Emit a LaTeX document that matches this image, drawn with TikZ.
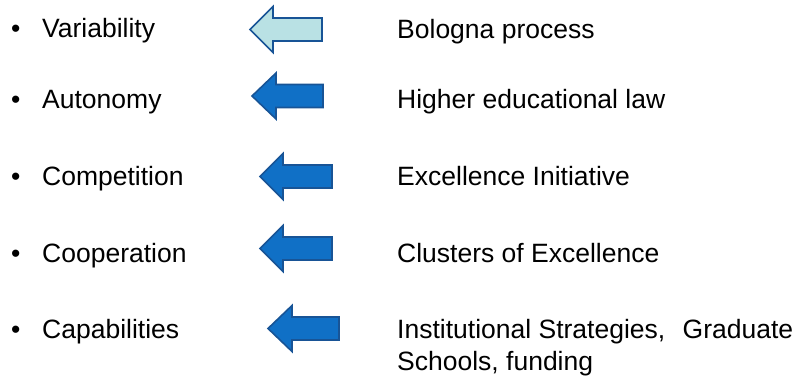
\documentclass[tikz,border=0pt]{standalone}
\usepackage{fontspec}
\setmainfont{Liberation Sans}
\definecolor{arrowfill}{RGB}{16,112,198}
\definecolor{arrowlight}{RGB}{185,225,228}
\definecolor{arrowline}{RGB}{24,84,150}
\tikzset{
  item/.style={anchor=base west, inner sep=0pt, font=\fontsize{26.5}{32}\selectfont},
  bigarrow/.style={draw=arrowline, line width=1.6pt, line join=miter, fill=#1},
}
% block arrow pointing left: [fill] tip x, head x, end x, centre y
\newcommand{\leftblock}[5][arrowfill]{%
  \draw[bigarrow=#1] (#2,#5) -- (#3,#5-23) -- (#3,#5-11.5) -- (#4,#5-11.5)
    -- (#4,#5+11.5) -- (#3,#5+11.5) -- (#3,#5+23) -- cycle;}
\begin{document}
\begin{tikzpicture}[x=1pt,y=-1pt]
 \useasboundingbox (0,0) rectangle (799,377);

 \node[item] (b1) at (11,37.5) {•};
 \node[item] (b2) at (11,108) {•};
 \node[item] (b3) at (11,185) {•};
 \node[item] (b4) at (11,262) {•};
 \node[item] (b5) at (11,338.5) {•};

 \node[item] (var) at (42,37.5) {Variability};
 \node[item] (aut) at (42,108) {Autonomy};
 \node[item] (comp) at (42,185) {Competition};
 \node[item] (coop) at (42,262) {Cooperation};
 \node[item] (cap) at (42,338.5) {Capabilities};

 \leftblock[arrowlight]{250}{273}{322}{29.5}
 \leftblock{252}{276}{323}{96}
 \leftblock{260}{283}{332}{176.5}
 \leftblock{260}{283}{332}{248.5}
 \leftblock{268}{292}{339}{328.5}

 \node[item] (bol) at (397,38.5) {Bologna process};
 \node[item] (law) at (397,108.5) {Higher educational law};
 \node[item] (exc) at (397,185) {Excellence Initiative};
 \node[item] (clu) at (397,262) {Clusters of Excellence};
 \node[item] (inst) at (397,338.5) {\hbox to 396pt{Institutional Strategies,\hfill Graduate}};
 \node[item] (sch) at (397,370.5) {Schools, funding};
\end{tikzpicture}
\end{document}
